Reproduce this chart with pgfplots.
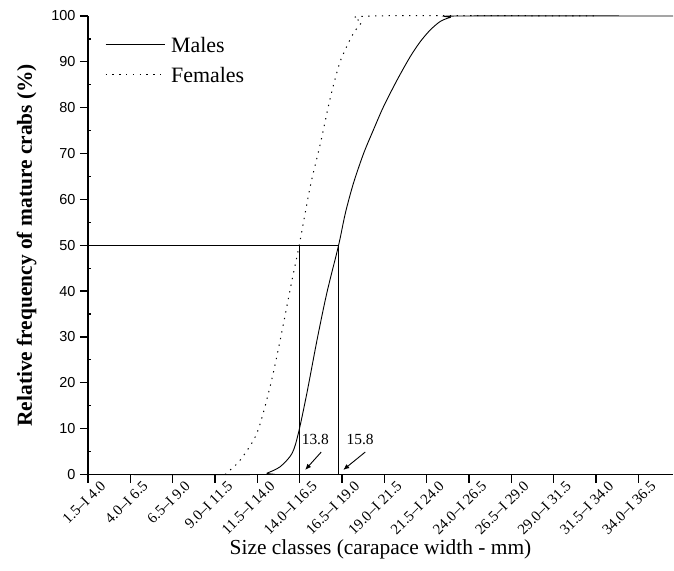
\documentclass[border=0pt]{standalone}
\usepackage{fontspec}
\setmainfont{Liberation Serif}
\newfontfamily\arialf{Liberation Sans}
\usepackage{pgfplots}
\pgfplotsset{compat=1.18}
\usetikzlibrary{arrows.meta}
\begin{document}
\begin{tikzpicture}
\begin{axis}[
  name=ax,
  scale only axis,
  width=585bp, height=458.5bp,
  xmin=0, xmax=13.82, ymin=0, ymax=100,
  axis x line*=bottom, axis y line*=left,
  axis line style={line width=1.6bp, -},
  every tick/.style={black, line width=1.2bp},
  tick align=outside,
  major tick length=8bp,
  xtick={0,...,13},
  xticklabels={{1.5--I 4.0},{4.0--I 6.5},{6.5--I 9.0},{9.0--I 11.5},{11.5--I 14.0},{14.0--I 16.5},{16.5--I 19.0},{19.0--I 21.5},{21.5--I 24.0},{24.0--I 26.5},{26.5--I 29.0},{29.0--I 31.5},{31.5--I 34.0},{34.0--I 36.5}},
  x tick label style={font=\fontsize{15}{15}\selectfont, rotate=45, anchor=north east, inner sep=1bp, xshift=11bp, yshift=-5bp},
  ytick={0,10,...,100},
  minor y tick num=1,
  minor tick length=3bp,
  minor y tick style={xshift=3bp},
  /pgf/number format/assume math mode=true,
  y tick label style={font=\arialf\fontsize{14.5}{14.5}\selectfont, xshift=-1bp},
  xlabel={Size classes (carapace width - mm)},
  ylabel={\bfseries Relative frequency of mature crabs (\%)},
  label style={font=\fontsize{21.5}{24}\selectfont},
  xlabel style={yshift=1bp},
  ylabel style={yshift=8bp},
  clip=false,
  legend style={draw=none, fill=none, at={(0.029,0.955)}, anchor=north west, font=\fontsize{22}{24}\selectfont, row sep=15bp, inner sep=0bp, nodes={inner sep=0bp, text depth=0bp}},
  legend cell align=left,
  legend image code/.code={\draw[#1] (0bp,0bp) -- (59bp,0bp); \path (65bp,0bp);},
]
\addplot[black, line width=0.9bp, smooth, tension=0.5] coordinates {
 (0,0) (4.10,0) (4.23,0.3) (4.54,1.7) (4.82,4.6) (4.97,9.0) (5.17,17.7) (5.41,29.3) (5.64,39.5) (5.92,50) (6.08,57.0) (6.27,63.5) (6.51,70.0) (6.74,75.1) (6.98,80.2) (7.30,86.0) (7.61,91.1) (7.85,94.4) (8.08,96.9) (8.32,98.8) (8.56,99.7) (8.79,100) (13.82,100)};
\addlegendentry{Males}
\addplot[black, line width=1bp, dash pattern=on 1.3bp off 5.5bp, smooth, tension=0.5] coordinates {
 (3.24,0) (3.36,1.0) (3.60,3.2) (3.99,9.0) (4.30,19.1) (4.54,29.3) (4.82,42.4) (4.99,50) (5.25,62.8) (5.49,72.2) (5.72,82.0) (5.92,89.0) (6.04,91.9) (6.27,96.2) (6.47,98.6) (6.66,100) (12.0,100)};
\addlegendentry{Females}
\addplot[black, line width=0.9bp, forget plot] coordinates {(0,50) (5.92,50)};
\addplot[black, line width=0.9bp, forget plot] coordinates {(5.0,0) (5.0,50)};
\addplot[black, line width=0.9bp, forget plot] coordinates {(5.92,0) (5.92,50)};
\node[font=\fontsize{15.5}{16}\selectfont] at (axis cs:5.37,7.6) {13.8};
\node[font=\fontsize{15.5}{16}\selectfont] at (axis cs:6.43,7.6) {15.8};
\draw[-{Latex[length=6bp,width=5bp]}, line width=0.9bp] (axis cs:5.51,4.9) -- (axis cs:5.13,1.0);
\draw[-{Latex[length=6bp,width=5bp]}, line width=0.9bp] (axis cs:6.55,4.9) -- (axis cs:6.03,1.0);
\end{axis}
\pgfresetboundingbox
\path[use as bounding box] ([shift={(-88bp,-96.5bp)}]ax.south west) rectangle ([shift={(1bp,16bp)}]ax.north east);
\end{tikzpicture}
\end{document}
